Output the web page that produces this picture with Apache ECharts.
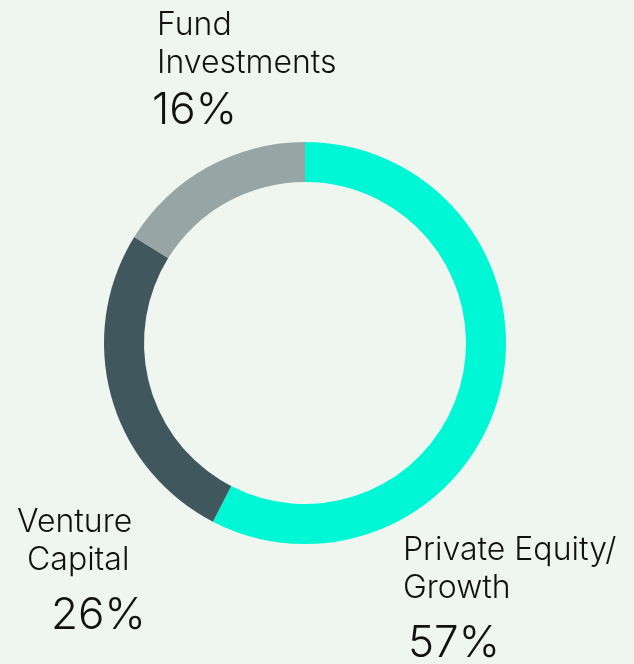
<!DOCTYPE html>
<html>
<head>
<meta charset="utf-8">
<script src="https://cdn.jsdelivr.net/npm/echarts@6/dist/echarts.min.js"></script>
<style>
  html, body { margin: 0; padding: 0; background: #eff6f0; }
  #main { width: 634px; height: 664px; }
</style>
</head>
<body>
<div id="main"></div>
<script>
// data
const categories = ['Private Equity/\nGrowth', 'Venture\nCapital', 'Fund\nInvestments'];
const shares = [57, 26, 16];
const colors = ['#00f7d5', '#41575e', '#97a6a5'];

// label placement: left x of each name line, center y of first line, percent left x / center y
const labelPos = [
    { xs: [403, 403], y: 550, px: 408, py: 644 },
    { xs: [17, 27], y: 522, px: 51, py: 616 },
    { xs: [157, 157], y: 25, px: 152, py: 111 }
];

const textColor = '#111';
const fontFamily = 'Inter';

const myChart = echarts.init(document.getElementById('main'));

const graphics = [];
categories.forEach(function (name, i) {
    const p = labelPos[i];
    name.split('\n').forEach(function (line, j) {
        graphics.push({
            type: 'text',
            x: p.xs[j], y: p.y + j * 38,
            style: {
                text: line,
                fill: textColor,
                font: '300 32px ' + fontFamily,
                textAlign: 'left',
                textVerticalAlign: 'middle'
            }
        });
    });
    graphics.push({
        type: 'text',
        x: p.px, y: p.py,
        style: {
            text: shares[i] + '%',
            fill: textColor,
            font: '300 44px ' + fontFamily,
            textAlign: 'left',
            textVerticalAlign: 'middle'
        }
    });
});

const option = {
    backgroundColor: '#eff6f0',
    animation: false,
    graphic: graphics,
    series: [
        {
            type: 'pie',
            center: [305, 343],
            radius: [161, 201],
            startAngle: 90,
            clockwise: true,
            label: { show: false },
            labelLine: { show: false },
            emphasis: { disabled: true },
            itemStyle: { borderWidth: 0 },
            data: categories.map(function (name, i) {
                return { name: name, value: shares[i], itemStyle: { color: colors[i] } };
            })
        }
    ]
};

myChart.setOption(option);
</script>
</body>
</html>
